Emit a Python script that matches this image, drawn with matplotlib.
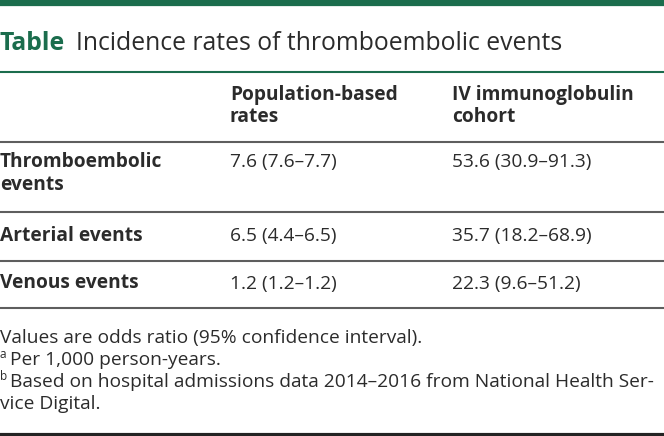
import matplotlib
matplotlib.use("Agg")
import matplotlib.pyplot as plt
from matplotlib.lines import Line2D

plt.rcParams['font.family'] = ['Open Sans', 'DejaVu Sans']

# table content
title_tag = "Table"
title_text = "Incidence rates of thromboembolic events"
col_headers = [["Population-based", "rates"], ["IV immunoglobulin", "cohort"]]
row_labels = [["Thromboembolic", "events"], ["Arterial events"], ["Venous events"]]
pop_rates = ["7.6 (7.6–7.7)", "6.5 (4.4–6.5)", "1.2 (1.2–1.2)"]
ivig_rates = ["53.6 (30.9–91.3)", "35.7 (18.2–68.9)", "22.3 (9.6–51.2)"]
footnote_main = "Values are odds ratio (95% confidence interval)."
footnote_marks = ["a", "b"]
footnote_texts = [["Per 1,000 person-years."],
                  ["Based on hospital admissions data 2014–2016 from National Health Ser-",
                   "vice Digital."]]

W, H = 664, 436
GREEN = "#1b6d4d"
TEXT = "#2b2b2b"
RULE = "#5e5e5e"
FS = 13.8
LINE_H = 22.5

fig = plt.figure(figsize=(W / 100, H / 100), dpi=100)


# helpers working in pixel coords (top-left origin)
def fx(x):
    return x / W


def fy(y):
    return 1 - y / H


def hline(y, lw, color):
    fig.add_artist(Line2D([0, 1], [fy(y), fy(y)], lw=lw, color=color,
                          transform=fig.transFigure, solid_capstyle="butt"))


def put(x, y, s, **kw):
    kw.setdefault("color", TEXT)
    kw.setdefault("fontsize", FS)
    return fig.text(fx(x), fy(y), s, va="baseline", ha="left", **kw)


def put_lines(x, y, lines, **kw):
    for i, s in enumerate(lines):
        put(x, y + i * LINE_H, s, **kw)


# top band and title
hline(3, 4.5, GREEN)
t = put(0, 50, title_tag, fontsize=17.8, fontweight="bold", color=GREEN)
fig.canvas.draw()
bb = t.get_window_extent()
put(bb.x1 + 11, 50, title_text, fontsize=17.8)
hline(72.5, 1.5, GREEN)

# header
col_x = [230, 452]
for x, h in zip(col_x, col_headers):
    put_lines(x, 100, h, fontweight="bold")
hline(142, 1.5, RULE)

# rows
row_y = [167, 240.5, 288.5]
rule_y = [212.5, 260.5, 307.5]
for lab, a, b, y, ry in zip(row_labels, pop_rates, ivig_rates, row_y, rule_y):
    put_lines(0, y, lab, fontweight="bold")
    put(col_x[0], y, a)
    put(col_x[1], y, b)
    hline(ry, 1.5, RULE)

# footnotes
put(0, 343, footnote_main)
foot_y = [365, 387]
for m, s, y in zip(footnote_marks, footnote_texts, foot_y):
    put(0, y - 7, m, fontsize=8.5)
    put(9.5, y, s[0])
    for k, extra in enumerate(s[1:], start=1):
        put(0, y + k * 22, extra)
hline(434.5, 3, "#232323")

fig.savefig("out.png", dpi=100)
